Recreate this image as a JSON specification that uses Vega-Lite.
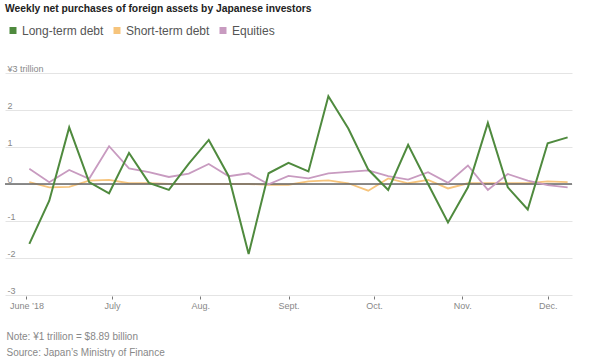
{
  "$schema": "https://vega.github.io/schema/vega-lite/v6.json",
  "width": 567,
  "height": 222,
  "autosize": {"type": "none"},
  "padding": {"left": 5, "top": 73, "right": 28, "bottom": 62},
  "background": "white",
  "title": {
    "text": "Weekly net purchases of foreign assets by Japanese investors",
    "anchor": "start",
    "frame": "group",
    "orient": "top",
    "baseline": "top",
    "offset": 0,
    "dy": -10,
    "font": "Liberation Sans, Arial, sans-serif",
    "fontSize": 10.3,
    "fontWeight": "bold",
    "color": "#222222"
  },
  "config": {
    "view": {"stroke": null},
    "font": "Liberation Sans, Arial, sans-serif"
  },
  "datasets": {
    "weekly": [
      {"date": "2018-06-02", "series": "Long-term debt", "value": -1.62},
      {"date": "2018-06-09", "series": "Long-term debt", "value": -0.45},
      {"date": "2018-06-16", "series": "Long-term debt", "value": 1.53},
      {"date": "2018-06-23", "series": "Long-term debt", "value": 0.05},
      {"date": "2018-06-30", "series": "Long-term debt", "value": -0.25},
      {"date": "2018-07-07", "series": "Long-term debt", "value": 0.84},
      {"date": "2018-07-14", "series": "Long-term debt", "value": 0.03},
      {"date": "2018-07-21", "series": "Long-term debt", "value": -0.16},
      {"date": "2018-07-28", "series": "Long-term debt", "value": 0.55},
      {"date": "2018-08-04", "series": "Long-term debt", "value": 1.19},
      {"date": "2018-08-11", "series": "Long-term debt", "value": 0.21},
      {"date": "2018-08-18", "series": "Long-term debt", "value": -1.89},
      {"date": "2018-08-25", "series": "Long-term debt", "value": 0.29},
      {"date": "2018-09-01", "series": "Long-term debt", "value": 0.57},
      {"date": "2018-09-08", "series": "Long-term debt", "value": 0.34},
      {"date": "2018-09-15", "series": "Long-term debt", "value": 2.37},
      {"date": "2018-09-22", "series": "Long-term debt", "value": 1.5},
      {"date": "2018-09-29", "series": "Long-term debt", "value": 0.39},
      {"date": "2018-10-06", "series": "Long-term debt", "value": -0.16},
      {"date": "2018-10-13", "series": "Long-term debt", "value": 1.06},
      {"date": "2018-10-20", "series": "Long-term debt", "value": 0.0},
      {"date": "2018-10-27", "series": "Long-term debt", "value": -1.04},
      {"date": "2018-11-03", "series": "Long-term debt", "value": -0.09},
      {"date": "2018-11-10", "series": "Long-term debt", "value": 1.65},
      {"date": "2018-11-17", "series": "Long-term debt", "value": -0.09},
      {"date": "2018-11-24", "series": "Long-term debt", "value": -0.69},
      {"date": "2018-12-01", "series": "Long-term debt", "value": 1.1},
      {"date": "2018-12-08", "series": "Long-term debt", "value": 1.26},
      {"date": "2018-06-02", "series": "Short-term debt", "value": 0.05},
      {"date": "2018-06-09", "series": "Short-term debt", "value": -0.09},
      {"date": "2018-06-16", "series": "Short-term debt", "value": -0.08},
      {"date": "2018-06-23", "series": "Short-term debt", "value": 0.09},
      {"date": "2018-06-30", "series": "Short-term debt", "value": 0.11},
      {"date": "2018-07-07", "series": "Short-term debt", "value": 0.02},
      {"date": "2018-07-14", "series": "Short-term debt", "value": 0.02},
      {"date": "2018-07-21", "series": "Short-term debt", "value": 0.0},
      {"date": "2018-07-28", "series": "Short-term debt", "value": 0.0},
      {"date": "2018-08-04", "series": "Short-term debt", "value": 0.0},
      {"date": "2018-08-11", "series": "Short-term debt", "value": 0.0},
      {"date": "2018-08-18", "series": "Short-term debt", "value": 0.0},
      {"date": "2018-08-25", "series": "Short-term debt", "value": -0.02},
      {"date": "2018-09-01", "series": "Short-term debt", "value": -0.02},
      {"date": "2018-09-08", "series": "Short-term debt", "value": 0.07},
      {"date": "2018-09-15", "series": "Short-term debt", "value": 0.1},
      {"date": "2018-09-22", "series": "Short-term debt", "value": 0.02},
      {"date": "2018-09-29", "series": "Short-term debt", "value": -0.18},
      {"date": "2018-10-06", "series": "Short-term debt", "value": 0.15},
      {"date": "2018-10-13", "series": "Short-term debt", "value": 0.02},
      {"date": "2018-10-20", "series": "Short-term debt", "value": 0.11},
      {"date": "2018-10-27", "series": "Short-term debt", "value": -0.12},
      {"date": "2018-11-03", "series": "Short-term debt", "value": 0.02},
      {"date": "2018-11-10", "series": "Short-term debt", "value": 0.02},
      {"date": "2018-11-17", "series": "Short-term debt", "value": 0.02},
      {"date": "2018-11-24", "series": "Short-term debt", "value": 0.02},
      {"date": "2018-12-01", "series": "Short-term debt", "value": 0.07},
      {"date": "2018-12-08", "series": "Short-term debt", "value": 0.05},
      {"date": "2018-06-02", "series": "Equities", "value": 0.41},
      {"date": "2018-06-09", "series": "Equities", "value": 0.05},
      {"date": "2018-06-16", "series": "Equities", "value": 0.38},
      {"date": "2018-06-23", "series": "Equities", "value": 0.14},
      {"date": "2018-06-30", "series": "Equities", "value": 1.02},
      {"date": "2018-07-07", "series": "Equities", "value": 0.42},
      {"date": "2018-07-14", "series": "Equities", "value": 0.32},
      {"date": "2018-07-21", "series": "Equities", "value": 0.19},
      {"date": "2018-07-28", "series": "Equities", "value": 0.28},
      {"date": "2018-08-04", "series": "Equities", "value": 0.54},
      {"date": "2018-08-11", "series": "Equities", "value": 0.21},
      {"date": "2018-08-18", "series": "Equities", "value": 0.29},
      {"date": "2018-08-25", "series": "Equities", "value": -0.01},
      {"date": "2018-09-01", "series": "Equities", "value": 0.22},
      {"date": "2018-09-08", "series": "Equities", "value": 0.15},
      {"date": "2018-09-15", "series": "Equities", "value": 0.29},
      {"date": "2018-09-22", "series": "Equities", "value": 0.33},
      {"date": "2018-09-29", "series": "Equities", "value": 0.37},
      {"date": "2018-10-06", "series": "Equities", "value": 0.21},
      {"date": "2018-10-13", "series": "Equities", "value": 0.12},
      {"date": "2018-10-20", "series": "Equities", "value": 0.32},
      {"date": "2018-10-27", "series": "Equities", "value": 0.03},
      {"date": "2018-11-03", "series": "Equities", "value": 0.5},
      {"date": "2018-11-10", "series": "Equities", "value": -0.16},
      {"date": "2018-11-17", "series": "Equities", "value": 0.27},
      {"date": "2018-11-24", "series": "Equities", "value": 0.09},
      {"date": "2018-12-01", "series": "Equities", "value": -0.03},
      {"date": "2018-12-08", "series": "Equities", "value": -0.09}
    ],
    "zero": [{"v": 0}]
  },
  "layer": [
    {
      "data": {"name": "weekly"},
      "transform": [{"filter": "datum.series === 'Short-term debt'"}],
      "mark": {"type": "line", "strokeWidth": 1.8},
      "encoding": {
        "x": {
          "field": "date",
          "type": "temporal",
          "scale": {
            "type": "utc",
            "domain": [
              {"year": 2018, "month": 5, "date": 24, "hours": 11, "utc": true},
              {"year": 2018, "month": 12, "date": 9, "hours": 13, "utc": true}
            ]
          },
          "axis": {
            "values": [
              {"year": 2018, "month": 6, "date": 1, "utc": true},
              {"year": 2018, "month": 7, "date": 1, "utc": true},
              {"year": 2018, "month": 8, "date": 1, "utc": true},
              {"year": 2018, "month": 9, "date": 1, "utc": true},
              {"year": 2018, "month": 10, "date": 1, "utc": true},
              {"year": 2018, "month": 11, "date": 1, "utc": true},
              {"year": 2018, "month": 12, "date": 1, "utc": true}
            ],
            "tickCount": 12,
            "labelExpr": "['June \u201918','July','Aug.','Sept.','Oct.','Nov.','Dec.'][utcmonth(datum.value)-5]",
            "labelOverlap": false,
            "domain": false,
            "grid": false,
            "ticks": true,
            "tickSize": 3,
            "tickColor": "#777777",
            "offset": 1,
            "labelPadding": 2,
            "labelFontSize": 9,
            "labelColor": "#888888",
            "labelBaseline": "top",
            "title": ["Note: \u00a51 trillion = $8.89 billion", "Source: Japan\u2019s Ministry of Finance"],
            "titleAnchor": "start",
            "titleAlign": "left",
            "titleBaseline": "alphabetic",
            "titleX": 1,
            "titleY": 43,
            "titleLineHeight": 16,
            "titleFontSize": 10,
            "titleFontWeight": "normal",
            "titleColor": "#888888"
          }
        },
        "y": {
          "field": "value",
          "type": "quantitative",
          "scale": {"domain": [-3, 3], "nice": false, "zero": false},
          "axis": {
            "values": [-3, -2, -1, 0, 1, 2, 3],
            "tickCount": 12,
            "labelExpr": "datum.value == 3 ? '\u00a53 trillion' : (datum.value >= 0 ? '\u00a0' + toString(datum.value) : toString(datum.value))",
            "labelOverlap": false,
            "domain": false,
            "ticks": false,
            "tickSize": 0,
            "grid": true,
            "gridColor": "#e4e4e4",
            "gridWidth": 1,
            "labelAlign": "left",
            "labelBaseline": "alphabetic",
            "labelPadding": -2,
            "labelOffset": -2,
            "labelFontSize": 9,
            "labelColor": "#888888",
            "title": null
          }
        },
        "color": {
          "field": "series",
          "type": "nominal",
          "scale": {
            "domain": ["Long-term debt", "Short-term debt", "Equities"],
            "range": ["#4f8a3e", "#f6c47c", "#c89bc0"]
          },
          "legend": {
            "orient": "none",
            "legendX": 2,
            "legendY": -48.5,
            "direction": "horizontal",
            "title": null,
            "symbolType": "square",
            "symbolSize": 49,
            "symbolStrokeWidth": 0,
            "labelFont": "Liberation Sans, Arial, sans-serif",
            "labelFontSize": 12,
            "labelColor": "#555555",
            "labelOffset": 3,
            "columnPadding": 7,
            "encode": {
              "symbols": {
                "update": {
                  "fill": {"scale": "color", "field": "value"},
                  "stroke": {"value": "transparent"}
                }
              }
            }
          }
        }
      }
    },
    {
      "data": {"name": "zero"},
      "mark": {"type": "rule", "color": "#666666", "strokeWidth": 1.5},
      "encoding": {"y": {"field": "v", "type": "quantitative"}}
    },
    {
      "data": {"name": "weekly"},
      "transform": [{"filter": "datum.series === 'Equities'"}],
      "mark": {"type": "line", "strokeWidth": 1.8},
      "encoding": {
        "x": {"field": "date", "type": "temporal"},
        "y": {"field": "value", "type": "quantitative"},
        "color": {"field": "series", "type": "nominal"}
      }
    },
    {
      "data": {"name": "weekly"},
      "transform": [{"filter": "datum.series === 'Long-term debt'"}],
      "mark": {"type": "line", "strokeWidth": 2},
      "encoding": {
        "x": {"field": "date", "type": "temporal"},
        "y": {"field": "value", "type": "quantitative"},
        "color": {"field": "series", "type": "nominal"}
      }
    }
  ]
}
